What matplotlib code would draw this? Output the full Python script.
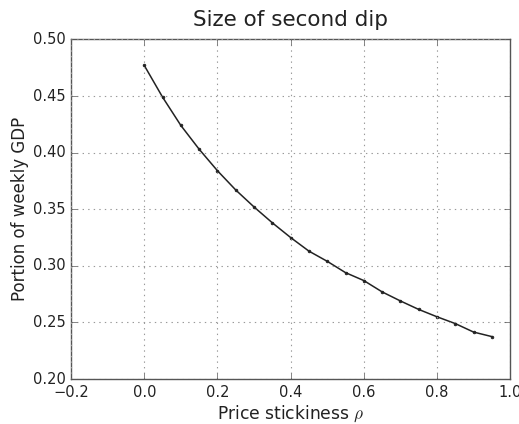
import matplotlib
matplotlib.use("Agg")
import matplotlib.pyplot as plt

plt.style.use("classic")

# Price stickiness values and the corresponding size of the second dip
rho = [0.00, 0.05, 0.10, 0.15, 0.20, 0.25, 0.30, 0.35, 0.40, 0.45,
       0.50, 0.55, 0.60, 0.65, 0.70, 0.75, 0.80, 0.85, 0.90, 0.95]
dip_size = [0.477, 0.449, 0.424, 0.403, 0.384, 0.367, 0.352, 0.338, 0.325, 0.313,
            0.304, 0.294, 0.287, 0.277, 0.269, 0.2615, 0.255, 0.249, 0.2415, 0.2375]

fig = plt.figure(figsize=(5.19, 4.24), dpi=100, facecolor="white")
ax = fig.add_axes([0.137, 0.106, 0.846, 0.801])

ax.plot(rho, dip_size, color="#222222", linestyle="-", marker=".",
        linewidth=1.1, markersize=4)

ax.set_xlim(-0.2, 1.0)
ax.set_ylim(0.20, 0.50)
ax.grid(True, color="#999999", linestyle=":", linewidth=0.8)

for spine in ax.spines.values():
    spine.set_color("#555555")
ax.tick_params(labelsize=10.5, colors="#555555", labelcolor="#222222")

ax.set_title("Size of second dip", fontsize=15.5, pad=10, color="#222222")
ax.set_xlabel(r"Price stickiness $\rho$", fontsize=12.3, color="#222222",
              labelpad=3)
ax.set_ylabel("Portion of weekly GDP", fontsize=12, color="#222222",
              labelpad=3)

fig.savefig("out.png", dpi=100, facecolor="white")
